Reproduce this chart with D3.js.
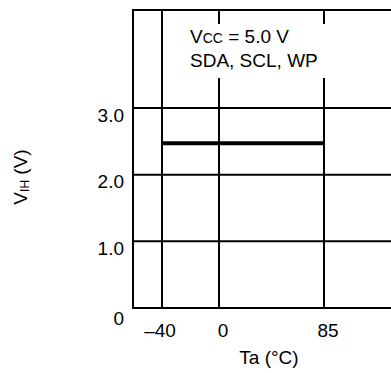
<!DOCTYPE html>
<html>
<head>
<meta charset="utf-8">
<script src="https://cdn.jsdelivr.net/npm/d3@7"></script>
<style>
  html, body { margin: 0; padding: 0; background: #fff; }
  svg { display: block; font-family: "Liberation Sans", Arial, sans-serif; }
</style>
</head>
<body>
<svg id="chart" width="391" height="373"></svg>
<script>
// ---- data ----
const xTickValues = [-40, 0, 85];
const xTickLabels = ["\u201340", "0", "85"];
const yTickValues = [0, 1.0, 2.0, 3.0];
const yTickLabels = ["0", "1.0", "2.0", "3.0"];
const seriesTa = [-40, 85];
const seriesVIH = [2.47, 2.47];
const xDomain = [-60, -40, 0, 85, 140];
const yDomain = [0, 4.47];

(function () {
  const svg = d3.select("#chart");
  const x = d3.scaleLinear().domain(xDomain).range([133, 162, 219, 324, 391]);
  const y = d3.scaleLinear().domain(yDomain).range([308, 10]);
  const ink = "#000";
  const gw = 2;
  const fs = 19;
  const pLeft = x(xDomain[0]), pRight = x(xDomain[xDomain.length - 1]);
  const pTop = y(yDomain[1]), pBottom = y(0);

  // horizontal grid lines (including bottom axis and top border)
  const hVals = yTickValues.concat([yDomain[1]]);
  svg.append("g").selectAll("line").data(hVals).join("line")
    .attr("x1", pLeft - 1).attr("x2", pRight)
    .attr("y1", d => y(d)).attr("y2", d => y(d))
    .attr("stroke", ink).attr("stroke-width", gw);

  // left border
  svg.append("line").attr("x1", pLeft).attr("x2", pLeft)
    .attr("y1", pTop - 1).attr("y2", pBottom + 1)
    .attr("stroke", ink).attr("stroke-width", gw);

  // vertical grid lines; 0 and 85 are broken around the annotation
  const gapTop = 24, gapBottom = 78;
  xTickValues.forEach(v => {
    if (v === -40) {
      svg.append("line").attr("x1", x(v)).attr("x2", x(v))
        .attr("y1", pTop).attr("y2", pBottom)
        .attr("stroke", ink).attr("stroke-width", gw);
    } else {
      svg.append("line").attr("x1", x(v)).attr("x2", x(v))
        .attr("y1", pTop).attr("y2", gapTop)
        .attr("stroke", ink).attr("stroke-width", gw);
      svg.append("line").attr("x1", x(v)).attr("x2", x(v))
        .attr("y1", gapBottom).attr("y2", pBottom)
        .attr("stroke", ink).attr("stroke-width", gw);
    }
  });

  // data line
  const line = d3.line().x(d => x(d[0])).y(d => y(d[1]));
  svg.append("path")
    .datum(seriesTa.map((t, i) => [t, seriesVIH[i]]))
    .attr("d", line)
    .attr("fill", "none").attr("stroke", ink).attr("stroke-width", 4);

  // y tick labels (sit slightly below their grid lines)
  svg.append("g").selectAll("text").data(yTickValues).join("text")
    .attr("x", 124)
    .attr("y", (d) => y(d) + (d === 0 ? 10 : 7))
    .attr("dy", "0.35em")
    .attr("text-anchor", "end")
    .attr("font-size", fs)
    .attr("fill", ink)
    .text((d, i) => yTickLabels[i]);

  // x tick labels
  svg.append("g").selectAll("text").data(xTickValues).join("text")
    .attr("x", (d) => x(d) + (d === -40 ? -2 : 4))
    .attr("y", 337)
    .attr("text-anchor", "middle")
    .attr("font-size", fs)
    .attr("fill", ink)
    .text((d, i) => xTickLabels[i]);

  // x axis title
  svg.append("text").attr("x", 269).attr("y", 364)
    .attr("text-anchor", "middle").attr("font-size", fs).attr("fill", ink)
    .text("Ta (\u00B0C)");

  // y axis title
  const yt = svg.append("text")
    .attr("transform", "translate(27,177) rotate(-90)")
    .attr("text-anchor", "middle").attr("font-size", fs).attr("fill", ink);
  yt.append("tspan").text("V");
  yt.append("tspan").attr("font-size", 12).attr("dy", 2).text("IH");
  yt.append("tspan").attr("dy", -2).text(" (V)");

  // annotation
  const a1 = svg.append("text").attr("x", 190).attr("y", 43)
    .attr("font-size", fs).attr("fill", ink);
  a1.append("tspan").text("V");
  a1.append("tspan").attr("font-size", 14).text("CC");
  a1.append("tspan").text(" = 5.0 V");
  svg.append("text").attr("x", 190).attr("y", 67)
    .attr("font-size", fs).attr("fill", ink)
    .text("SDA, SCL, WP");
})();
</script>
</body>
</html>
